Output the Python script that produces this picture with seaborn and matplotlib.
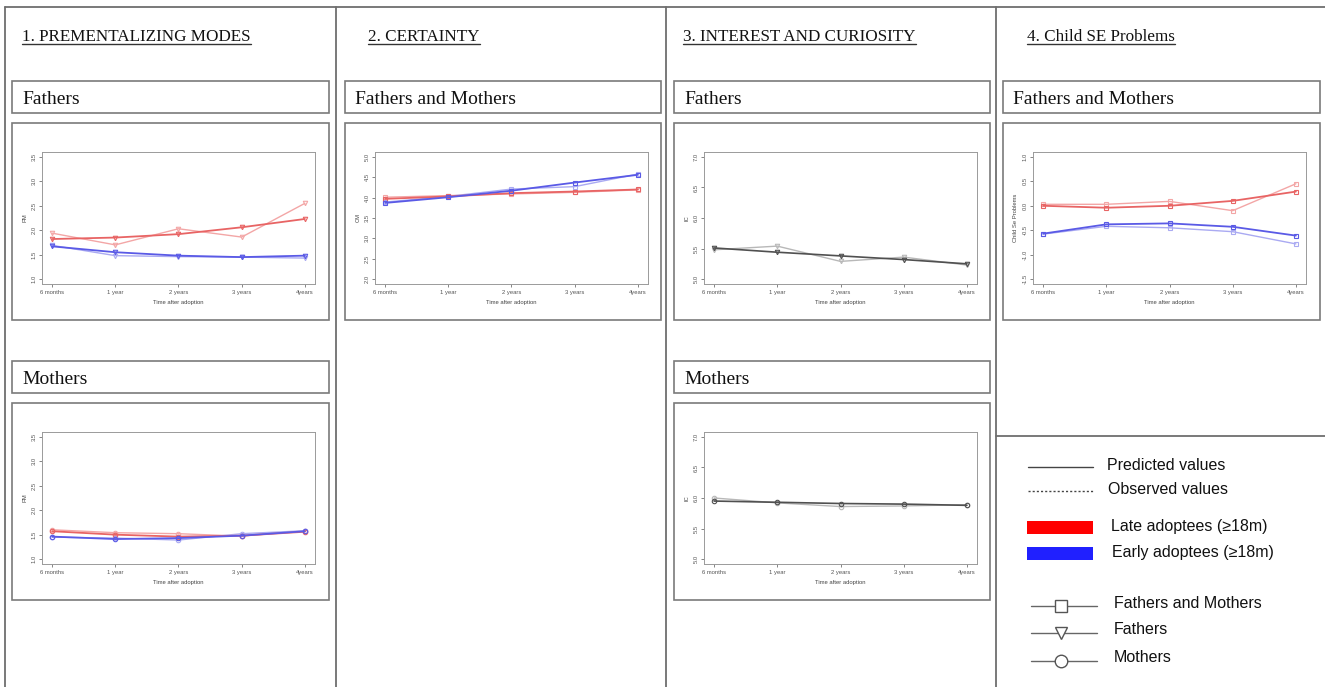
import numpy as np
import pandas as pd
import matplotlib.pyplot as plt
import seaborn as sns
from matplotlib.patches import Rectangle
from matplotlib.lines import Line2D

# time points
times = ["6 months", "1 year", "2 years", "3 years", "4years"]

# 1. prementalizing modes (PM) - fathers
pm_f_late_pred = [1.82, 1.85, 1.92, 2.06, 2.23]
pm_f_late_obs = [1.94, 1.70, 2.03, 1.86, 2.55]
pm_f_early_pred = [1.67, 1.55, 1.48, 1.45, 1.48]
pm_f_early_obs = [1.69, 1.48, 1.46, 1.45, 1.43]

# 1. prementalizing modes (PM) - mothers
pm_m_late_pred = [1.57, 1.50, 1.46, 1.48, 1.56]
pm_m_late_obs = [1.60, 1.54, 1.52, 1.47, 1.58]
pm_m_early_pred = [1.46, 1.41, 1.43, 1.48, 1.57]
pm_m_early_obs = [1.45, 1.43, 1.39, 1.52, 1.58]

# 2. certainty (CM) - fathers and mothers
cm_late_pred = [3.97, 4.03, 4.11, 4.15, 4.20]
cm_late_obs = [4.01, 4.05, 4.09, 4.13, 4.19]
cm_early_pred = [3.87, 4.01, 4.17, 4.37, 4.56]
cm_early_obs = [3.89, 4.03, 4.21, 4.27, 4.58]

# 3. interest and curiosity (IC)
ic_f_pred = [5.51, 5.44, 5.38, 5.32, 5.25]
ic_f_obs = [5.48, 5.54, 5.29, 5.36, 5.23]
ic_m_pred = [5.95, 5.93, 5.91, 5.90, 5.88]
ic_m_obs = [6.00, 5.92, 5.86, 5.87, 5.89]

# 4. child SE problems
se_late_pred = [0.00, -0.04, 0.00, 0.10, 0.29]
se_late_obs = [0.03, 0.03, 0.09, -0.10, 0.45]
se_early_pred = [-0.57, -0.38, -0.36, -0.43, -0.61]
se_early_obs = [-0.58, -0.42, -0.45, -0.53, -0.78]

W, H = 1325, 687
GRID = "#6e6e6e"
RED_P, RED_O = "#e86464", "#f3a6a6"
BLUE_P, BLUE_O = "#5a5ae6", "#aaaaf2"
GREY_P, GREY_O = "#505050", "#b8b8b8"

sns.set_theme(style="white")
plt.rcParams['font.family'] = ['Liberation Sans', 'DejaVu Sans']

fig = plt.figure(figsize=(W / 100, H / 100), dpi=100)
bg = fig.add_axes([0, 0, 1, 1])
bg.set_xlim(0, W)
bg.set_ylim(H, 0)
bg.axis('off')

# outer grid lines
for xv in [5, 336, 666, 996]:
    bg.plot([xv, xv], [7, H], color=GRID, lw=1.3)
bg.plot([5, W], [7, 7], color=GRID, lw=1.3)
bg.plot([996, W], [436, 436], color=GRID, lw=1.3)

# column titles (underlined)
titles = [(22, "1. PREMENTALIZING MODES"), (368, "2. CERTAINTY"),
          (683, "3. INTEREST AND CURIOSITY"), (1027, "4. Child SE Problems")]
title_texts = []
for tx, tt in titles:
    t = bg.text(tx, 41, tt, fontsize=12.3, family=['Liberation Serif'], va='baseline', color='#111111')
    title_texts.append(t)


def box(x0, y0, x1, y1, label=None):
    bg.add_patch(Rectangle((x0, y0), x1 - x0, y1 - y0, fill=True, facecolor='white',
                           edgecolor='#7a7a7a', lw=1.2))
    if label:
        bg.text(x0 + 10, y0 + 23, label, fontsize=14, family=['Liberation Serif'],
                va='baseline', color='#111111')


# sub-header boxes
box(12, 81, 329, 113, "Fathers")
box(345, 81, 661, 113, "Fathers and Mothers")
box(674, 81, 990, 113, "Fathers")
box(1003, 81, 1320, 113, "Fathers and Mothers")
box(12, 361, 329, 393, "Mothers")
box(674, 361, 990, 393, "Mothers")


def panel(fx0, fy0, fx1, ylab, yticks, series, marker):
    box(fx0, fy0, fx1, fy0 + 197)
    ax0, ay0, ax1, ay1 = fx0 + 30, fy0 + 29, fx0 + 303, fy0 + 161
    ax = fig.add_axes([ax0 / W, 1 - ay1 / H, (ax1 - ax0) / W, (ay1 - ay0) / H])
    x = list(range(len(times)))
    for vals, color, lw in series:
        sns.lineplot(x=x, y=vals, ax=ax, color=color, lw=lw, marker=marker,
                     markersize=3.2, markerfacecolor='none', markeredgecolor=color,
                     markeredgewidth=0.8)
    rng = yticks[-1] - yticks[0]
    ax.set_ylim(yticks[0] - 0.04 * rng, yticks[-1] + 0.04 * rng)
    ax.set_xlim(-0.16, 4.16)
    ax.set_yticks(yticks)
    ax.set_yticklabels([f"{v:.1f}" for v in yticks], rotation=90, va='center')
    ax.set_xticks(x)
    ax.set_xticklabels(times)
    ax.tick_params(labelsize=4.2, length=2.5, width=0.5, colors='#555555', pad=1.5,
                   left=True, bottom=True)
    for s in ax.spines.values():
        s.set_color('#9a9a9a')
        s.set_linewidth(0.7)
    ax.set_ylabel(ylab, fontsize=4.2, color='#444444', labelpad=3)
    ax.set_xlabel("Time after adoption", fontsize=4.2, color='#444444', labelpad=4)
    return ax


pm_ticks = [1.0, 1.5, 2.0, 2.5, 3.0, 3.5]
cm_ticks = [2.0, 2.5, 3.0, 3.5, 4.0, 4.5, 5.0]
ic_ticks = [5.0, 5.5, 6.0, 6.5, 7.0]
se_ticks = [-1.5, -1.0, -0.5, 0.0, 0.5, 1.0]

panel(12, 123, 329, "PM", pm_ticks,
      [(pm_f_late_obs, RED_O, 1.0), (pm_f_early_obs, BLUE_O, 1.0),
       (pm_f_late_pred, RED_P, 1.3), (pm_f_early_pred, BLUE_P, 1.3)], 'v')
panel(12, 403, 329, "PM", pm_ticks,
      [(pm_m_late_obs, RED_O, 1.0), (pm_m_early_obs, BLUE_O, 1.0),
       (pm_m_late_pred, RED_P, 1.3), (pm_m_early_pred, BLUE_P, 1.3)], 'o')
panel(345, 123, 661, "CM", cm_ticks,
      [(cm_late_obs, RED_O, 1.0), (cm_early_obs, BLUE_O, 1.0),
       (cm_late_pred, RED_P, 1.3), (cm_early_pred, BLUE_P, 1.3)], 's')
panel(674, 123, 990, "IC", ic_ticks,
      [(ic_f_obs, GREY_O, 1.0), (ic_f_pred, GREY_P, 1.2)], 'v')
panel(674, 403, 990, "IC", ic_ticks,
      [(ic_m_obs, GREY_O, 1.0), (ic_m_pred, GREY_P, 1.2)], 'o')
panel(1003, 123, 1320, "Child Se Problems", se_ticks,
      [(se_late_obs, RED_O, 1.0), (se_early_obs, BLUE_O, 1.0),
       (se_late_pred, RED_P, 1.3), (se_early_pred, BLUE_P, 1.3)], 's')

# legend block
LEG = "#444444"
bg.plot([1028, 1093], [467, 467], color=LEG, lw=1.0)
bg.text(1107, 465, "Predicted values", fontsize=11.5, va='center', color='#111111')
bg.plot([1028, 1093], [491, 491], color=LEG, lw=1.0, ls=(0, (1.5, 1.5)))
bg.text(1108, 489, "Observed values", fontsize=11.5, va='center', color='#111111')
bg.add_patch(Rectangle((1027, 521), 66, 13, facecolor='#ff0000', edgecolor='none'))
bg.text(1111, 526, "Late adoptees (≥18m)", fontsize=11.5, va='center', color='#111111')
bg.add_patch(Rectangle((1027, 547), 66, 13, facecolor='#2020ff', edgecolor='none'))
bg.text(1112, 553, "Early adoptees (≥18m)", fontsize=11.5, va='center', color='#111111')
for yy, mk, lab in [(606, 's', "Fathers and Mothers"), (633, 'v', "Fathers"), (661, 'o', "Mothers")]:
    bg.plot([1031, 1097], [yy, yy], color='#666666', lw=1.0)
    bg.plot([1061], [yy], marker=mk, markersize=9, markerfacecolor='white',
            markeredgecolor='#555555', markeredgewidth=1.0)
    bg.text(1114, yy - 3, lab, fontsize=11.5, va='center', color='#111111')

# underline the titles
fig.canvas.draw()
renderer = fig.canvas.get_renderer()
inv = bg.transData.inverted()
for t in title_texts:
    bb = t.get_window_extent(renderer)
    (xa, _), (xb, _) = inv.transform([(bb.x0, bb.y0), (bb.x1, bb.y0)])
    bg.plot([xa, xb], [44, 44], color='#333333', lw=1.0)

fig.savefig("out.png", dpi=100)
